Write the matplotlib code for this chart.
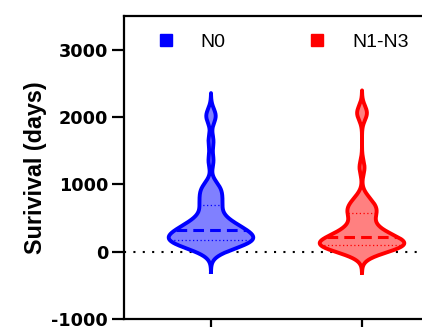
import numpy as np
import matplotlib.pyplot as plt
from matplotlib.lines import Line2D

plt.rcParams["axes.unicode_minus"] = False

# survival in days per nodal group
groups = ["N0", "N1-N3"]
colors = ["#0000ff", "#ff0000"]
fills = ["#8080ff", "#ff8080"]

n0_days = [15, 50, 80, 100, 115, 130, 140, 150, 158, 165,
           175, 185, 200, 215, 230, 245, 260, 275, 290, 305,
           325, 340, 355, 375, 400, 425, 455, 495, 545, 610,
           690, 720, 770, 840, 900, 940, 990, 1350, 1640, 1990,
           2040]
n13_days = [0, 20, 40, 55, 65, 75, 85, 92, 98, 105,
            115, 125, 140, 150, 165, 180, 200, 225, 235, 260,
            290, 320, 360, 410, 470, 550, 590, 600, 640, 690,
            740, 800, 1250, 2040, 2080]
data = [n0_days, n13_days]

bw = 105.0
half_width = 0.28


def kde(vals, grid, h):
    vals = np.asarray(vals, float)
    z = (grid[:, None] - vals[None, :]) / h
    return np.exp(-0.5 * z ** 2).sum(axis=1)


fig = plt.figure(figsize=(4.22, 3.27), dpi=100)
ax = fig.add_axes([124 / 422, 8 / 327, (449 - 124) / 422, (319 - 16) / 327])

for i, (vals, c, fc) in enumerate(zip(data, colors, fills)):
    pos = i + 1
    vals = np.sort(np.asarray(vals, float))
    grid = np.linspace(vals.min() - 3 * bw, vals.max() + 3 * bw, 600)
    dens = kde(vals, grid, bw)
    w = dens / dens.max() * half_width
    ax.fill_betweenx(grid, pos - w, pos + w, facecolor=fc, edgecolor="none", zorder=2)
    ax.plot(np.r_[pos - w, (pos + w)[::-1], (pos - w)[0]],
            np.r_[grid, grid[::-1], grid[0]], color=c, lw=2.8,
            solid_joinstyle="round", zorder=3)
    q1, med, q3 = np.percentile(vals, [25, 50, 75])
    for q, ls, lw in [(q1, (0, (1, 2)), 0.9), (med, (0, (3.5, 2)), 2.2), (q3, (0, (1, 2)), 0.9)]:
        wq = np.interp(q, grid, w)
        ax.plot([pos - wq, pos + wq], [q, q], color=c, lw=lw, ls=ls, zorder=3)

ax.axhline(0, color="black", lw=1.5, ls=(0, (1, 3.5)), zorder=1)

ax.set_xlim(0.424, 2.576)
ax.set_ylim(-1000, 3500)
ax.set_yticks([-1000, 0, 1000, 2000, 3000])
ax.set_xticks([1, 2])
ax.set_xticklabels([])
for sp in ["left", "bottom", "top"]:
    ax.spines[sp].set_linewidth(1.6)
ax.spines["right"].set_visible(False)
ax.tick_params(axis="both", width=1.6, length=8.5, labelsize=12.7, pad=3)
for lab in ax.get_yticklabels():
    lab.set_fontweight("bold")
    lab.set_family("DejaVu Sans")
ax.set_ylabel("Surivival (days)", fontsize=16.8, fontweight="bold",
              family="Liberation Sans", labelpad=3)

handles = [Line2D([], [], ls="none", marker="s", markersize=8.5, color=c,
                  markeredgecolor=c) for c in colors]
ax.legend(handles, groups, loc="upper left", bbox_to_anchor=(0.045, 1.0), ncol=2,
          frameon=False, prop={"family": "Liberation Sans", "size": 14},
          handletextpad=1.3, columnspacing=4.2, handlelength=1.0)

fig.savefig("out.png", dpi=100)
